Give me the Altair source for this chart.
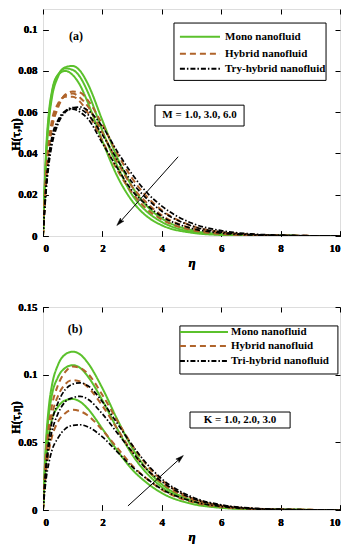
import altair as alt
import pandas as pd

# ---------------- data ----------------
ETA = [0, 0.1, 0.2, 0.3, 0.5, 0.75, 1.0, 1.25, 1.5, 2.0, 2.5, 3.0, 3.5, 4.0, 5.0, 6.0, 7.0, 8.0, 10.0]

FLUIDS = ["Mono", "Hybrid", "Tri"]

# Panel (a): M = 1.0, 3.0, 6.0
A_MONO_M1 = [0, 0.036, 0.056, 0.067, 0.077, 0.0818, 0.0824, 0.080, 0.074, 0.056, 0.038, 0.024, 0.0145, 0.0085, 0.0028, 0.0009, 0.0003, 0.0001, 0]
A_MONO_M3 = [0, 0.038, 0.058, 0.069, 0.078, 0.0812, 0.0805, 0.077, 0.070, 0.051, 0.034, 0.020, 0.0118, 0.0068, 0.0021, 0.0007, 0.0002, 0.0001, 0]
A_MONO_M6 = [0, 0.040, 0.060, 0.070, 0.078, 0.0800, 0.078, 0.073, 0.065, 0.046, 0.029, 0.017, 0.0095, 0.0052, 0.0016, 0.0005, 0.0002, 0.0001, 0]
A_HYB_M1 = [0, 0.026, 0.042, 0.052, 0.062, 0.0685, 0.0700, 0.0695, 0.066, 0.054, 0.040, 0.028, 0.019, 0.0125, 0.0050, 0.0019, 0.0007, 0.0002, 0]
A_HYB_M3 = [0, 0.027, 0.044, 0.054, 0.063, 0.0680, 0.0690, 0.067, 0.063, 0.050, 0.036, 0.024, 0.016, 0.0100, 0.0038, 0.0014, 0.0005, 0.0002, 0]
A_HYB_M6 = [0, 0.029, 0.046, 0.056, 0.064, 0.0675, 0.0675, 0.065, 0.060, 0.046, 0.032, 0.021, 0.013, 0.0080, 0.0029, 0.0010, 0.0004, 0.0001, 0]
A_TRI_M1 = [0, 0.021, 0.035, 0.044, 0.054, 0.0600, 0.0620, 0.0625, 0.061, 0.053, 0.041, 0.030, 0.021, 0.0145, 0.0063, 0.0026, 0.0010, 0.0004, 0]
A_TRI_M3 = [0, 0.022, 0.037, 0.046, 0.055, 0.0605, 0.0622, 0.0615, 0.059, 0.049, 0.037, 0.026, 0.018, 0.0120, 0.0049, 0.0019, 0.0007, 0.0003, 0]
A_TRI_M6 = [0, 0.024, 0.039, 0.048, 0.056, 0.0605, 0.0615, 0.060, 0.057, 0.045, 0.033, 0.022, 0.015, 0.0095, 0.0037, 0.0014, 0.0005, 0.0002, 0]

# Panel (b): K = 1.0, 2.0, 3.0
B_MONO_K3 = [0, 0.050, 0.077, 0.092, 0.107, 0.115, 0.117, 0.115, 0.109, 0.090, 0.067, 0.046, 0.030, 0.019, 0.0072, 0.0025, 0.0008, 0.0003, 0]
B_MONO_K2 = [0, 0.046, 0.071, 0.085, 0.098, 0.105, 0.107, 0.105, 0.099, 0.081, 0.060, 0.041, 0.027, 0.017, 0.0064, 0.0022, 0.0007, 0.0002, 0]
B_MONO_K1 = [0, 0.036, 0.056, 0.067, 0.076, 0.081, 0.082, 0.080, 0.075, 0.060, 0.044, 0.030, 0.020, 0.0125, 0.0046, 0.0016, 0.0005, 0.0002, 0]
B_HYB_K3 = [0, 0.040, 0.063, 0.077, 0.092, 0.102, 0.106, 0.105, 0.101, 0.085, 0.066, 0.048, 0.033, 0.022, 0.0088, 0.0032, 0.0011, 0.0004, 0]
B_HYB_K2 = [0, 0.036, 0.057, 0.070, 0.084, 0.093, 0.096, 0.095, 0.091, 0.077, 0.060, 0.043, 0.030, 0.020, 0.0080, 0.0029, 0.0010, 0.0003, 0]
B_HYB_K1 = [0, 0.028, 0.044, 0.054, 0.065, 0.0715, 0.074, 0.073, 0.070, 0.059, 0.046, 0.033, 0.023, 0.015, 0.0060, 0.0022, 0.0008, 0.0003, 0]
B_TRI_K3 = [0, 0.032, 0.052, 0.065, 0.079, 0.089, 0.093, 0.094, 0.092, 0.080, 0.064, 0.048, 0.034, 0.023, 0.0098, 0.0038, 0.0014, 0.0005, 0]
B_TRI_K2 = [0, 0.029, 0.047, 0.058, 0.071, 0.080, 0.083, 0.084, 0.082, 0.071, 0.057, 0.043, 0.030, 0.021, 0.0088, 0.0034, 0.0012, 0.0004, 0]
B_TRI_K1 = [0, 0.022, 0.035, 0.044, 0.053, 0.060, 0.0625, 0.063, 0.0615, 0.054, 0.043, 0.032, 0.023, 0.0155, 0.0066, 0.0026, 0.0009, 0.0003, 0]

A_LABELS = ["Mono nanofluid", "Hybrid nanofluid", "Try-hybrid nanofluid"]
B_LABELS = ["Mono nanofluid", "Hybrid nanofluid", "Tri-hybrid nanofluid"]
A_NOTE = "M = 1.0, 3.0, 6.0"
B_NOTE = "K = 1.0, 2.0, 3.0"
X_TICKS = [0, 2, 4, 6, 8, 10]
A_Y_TICKS = [0, 0.02, 0.04, 0.06, 0.08, 0.1]
B_Y_TICKS = [0, 0.05, 0.1, 0.15]

# ---------------- styling / layout ----------------
FONT = "Liberation Serif"
COLORS = ["#5BC12C", "#B0642B", "#000000"]
DASHES = [[1, 0], [6, 4], [5, 2, 1.5, 2]]
WIDTHS = [2.0, 2.0, 1.7]
W = 297
ARROW_HEAD = "M0,-1L0.55,0.9L0,0.55L-0.55,0.9Z"

A_LAYOUT = dict(height=227, ymax=0.11, title_y=125,
                legend_box=(4.41, 9.53, 0.1032, 0.0754), legend_y=[0.0965, 0.0883, 0.0811],
                legend_x=(4.61, 5.96, 6.13),
                note_box=(3.77, 6.77, 0.0634, 0.0533), note_xy=(5.27, 0.0584),
                arrow=(4.55, 0.0384, 2.58, 0.0066), arrow_angle=222,
                tag="(a)", tag_xy=(1.11, 0.097))
B_LAYOUT = dict(height=203, ymax=0.15, title_y=110,
                legend_box=(4.61, 9.93, 0.1360, 0.1005), legend_y=[0.1315, 0.1212, 0.1101],
                legend_x=(4.61, 6.23, 6.33),
                note_box=(4.95, 8.32, 0.0724, 0.0606), note_xy=(6.63, 0.0665),
                arrow=(2.86, 0.003, 4.62, 0.0382), arrow_angle=48,
                tag="(b)", tag_xy=(1.08, 0.1337))


def curves_df(curves):
    rows = []
    for fluid, cid, vals in curves:
        for e, v in zip(ETA, vals):
            rows.append({"fluid": fluid, "curve": cid, "eta": e, "H": v})
    return pd.DataFrame(rows)


def panel(curves, labels, note, yticks, L):
    xs = alt.Scale(domain=[0, 10], nice=False, zero=False)
    ys = alt.Scale(domain=[0, L["ymax"]], nice=False, zero=False)
    cs = alt.Scale(domain=FLUIDS, range=COLORS)
    ds = alt.Scale(domain=FLUIDS, range=DASHES)

    x_axis = alt.Axis(orient="bottom", values=X_TICKS, format="d", offset=-5, tickSize=5, domain=False, grid=False,
                      tickColor="black", labelColor="black", labelFont=FONT, labelFontWeight="bold",
                      labelFontSize=11, labelPadding=6, title="η", titleFont=FONT, titleFontStyle="italic",
                      titleFontWeight="bold", titleFontSize=13, titleColor="black", titlePadding=3)
    y_axis = alt.Axis(orient="left", values=yticks, format=".2~f", offset=-5, tickSize=5, domain=False, grid=False,
                      tickColor="black", labelColor="black", labelFont=FONT, labelFontWeight="bold",
                      labelFontSize=11, labelPadding=6, labelLimit=60, labelFlush=False,
                      title="H(τ,η)", titleFont=FONT,
                      titleFontWeight="bold", titleFontSize=12, titleColor="black",
                      titleX=-33, titleY=L["title_y"], titleBaseline="middle",
                      minExtent=37, maxExtent=37)
    x_top = alt.Axis(orient="top", values=X_TICKS, offset=-5, tickSize=5, domain=False, grid=False,
                     labels=False, title=None, tickColor="black")
    y_right = alt.Axis(orient="right", values=yticks, offset=-5, tickSize=5, domain=False, grid=False,
                       labels=False, title=None, tickColor="black")

    df = curves_df(curves)
    layers = []
    for i, f in enumerate(FLUIDS):
        layers.append(
            alt.Chart(df[df.fluid == f]).mark_line(strokeWidth=WIDTHS[i], interpolate="monotone", clip=True).encode(
                x=alt.X("eta:Q", scale=xs, axis=x_axis),
                y=alt.Y("H:Q", scale=ys, axis=y_axis),
                color=alt.Color("fluid:N", scale=cs, legend=None),
                strokeDash=alt.StrokeDash("fluid:N", scale=ds, legend=None),
                detail="curve:N",
            )
        )

    # legend box (also carries the top/right tick axes)
    bx1, bx2, by1, by2 = L["legend_box"]
    box = alt.Chart(pd.DataFrame({"x1": [bx1], "x2": [bx2], "y1": [by1], "y2": [by2]})).mark_rect(
        fill="white", stroke="black", strokeWidth=1).encode(
        x=alt.X("x1:Q", scale=xs, axis=x_top), x2="x2:Q",
        y=alt.Y("y1:Q", scale=ys, axis=y_right), y2="y2:Q")
    layers.append(box)

    lx1, lx2, ltx = L["legend_x"]
    leg = pd.DataFrame({"fluid": FLUIDS, "label": labels, "y": L["legend_y"],
                        "x1": [lx1] * 3, "x2": [lx2] * 3, "tx": [ltx] * 3})
    layers.append(alt.Chart(leg).mark_rule(strokeWidth=2).encode(
        x=alt.X("x1:Q", scale=xs, axis=None), x2="x2:Q",
        y=alt.Y("y:Q", scale=ys, axis=None),
        color=alt.Color("fluid:N", scale=cs, legend=None),
        strokeDash=alt.StrokeDash("fluid:N", scale=ds, legend=None)))
    layers.append(alt.Chart(leg).mark_text(align="left", baseline="middle", font=FONT, fontWeight="bold",
                                           fontSize=11, color="black").encode(
        x=alt.X("tx:Q", scale=xs, axis=None), y=alt.Y("y:Q", scale=ys, axis=None), text="label:N"))

    # parameter note box
    nx1, nx2, ny1, ny2 = L["note_box"]
    layers.append(alt.Chart(pd.DataFrame({"x1": [nx1], "x2": [nx2], "y1": [ny1], "y2": [ny2]})).mark_rect(
        fill="white", stroke="black", strokeWidth=1).encode(
        x=alt.X("x1:Q", scale=xs, axis=None), x2="x2:Q",
        y=alt.Y("y1:Q", scale=ys, axis=None), y2="y2:Q"))
    tx, ty = L["note_xy"]
    layers.append(alt.Chart(pd.DataFrame({"x": [tx], "y": [ty], "t": [note]})).mark_text(
        align="center", baseline="middle", font=FONT, fontWeight="bold", fontSize=11, color="black").encode(
        x=alt.X("x:Q", scale=xs, axis=None), y=alt.Y("y:Q", scale=ys, axis=None), text="t:N"))

    # arrow
    ax1, ay1, ax2, ay2 = L["arrow"]
    layers.append(alt.Chart(pd.DataFrame({"x1": [ax1], "y1": [ay1], "x2": [ax2], "y2": [ay2]})).mark_rule(
        color="black", strokeWidth=1).encode(
        x=alt.X("x1:Q", scale=xs, axis=None), x2="x2:Q",
        y=alt.Y("y1:Q", scale=ys, axis=None), y2="y2:Q"))
    layers.append(alt.Chart(pd.DataFrame({"x": [ax2], "y": [ay2]})).mark_point(
        shape=ARROW_HEAD, filled=True, size=70, fill="black", stroke="black", strokeWidth=0.5,
        opacity=1, fillOpacity=1, angle=L["arrow_angle"]).encode(
        x=alt.X("x:Q", scale=xs, axis=None), y=alt.Y("y:Q", scale=ys, axis=None)))

    # panel tag
    gx, gy = L["tag_xy"]
    layers.append(alt.Chart(pd.DataFrame({"x": [gx], "y": [gy], "t": [L["tag"]]})).mark_text(
        align="center", baseline="middle", font=FONT, fontWeight="bold", fontSize=12, color="black").encode(
        x=alt.X("x:Q", scale=xs, axis=None), y=alt.Y("y:Q", scale=ys, axis=None), text="t:N"))

    return alt.layer(*layers).properties(width=W, height=L["height"])


panel_a = panel([
    ("Mono", "m1", A_MONO_M1), ("Mono", "m3", A_MONO_M3), ("Mono", "m6", A_MONO_M6),
    ("Hybrid", "h1", A_HYB_M1), ("Hybrid", "h3", A_HYB_M3), ("Hybrid", "h6", A_HYB_M6),
    ("Tri", "t1", A_TRI_M1), ("Tri", "t3", A_TRI_M3), ("Tri", "t6", A_TRI_M6),
], A_LABELS, A_NOTE, A_Y_TICKS, A_LAYOUT)

panel_b = panel([
    ("Mono", "m3", B_MONO_K3), ("Mono", "m2", B_MONO_K2), ("Mono", "m1", B_MONO_K1),
    ("Hybrid", "h3", B_HYB_K3), ("Hybrid", "h2", B_HYB_K2), ("Hybrid", "h1", B_HYB_K1),
    ("Tri", "t3", B_TRI_K3), ("Tri", "t2", B_TRI_K2), ("Tri", "t1", B_TRI_K1),
], B_LABELS, B_NOTE, B_Y_TICKS, B_LAYOUT)

chart = alt.vconcat(panel_a, panel_b, spacing=30).properties(
    padding={"left": 0, "top": 0, "right": 0, "bottom": 0}
).configure_view(stroke="black", strokeWidth=1).configure(background="white")

chart.save("out.html", embed_options={"renderer": "svg", "actions": False})
